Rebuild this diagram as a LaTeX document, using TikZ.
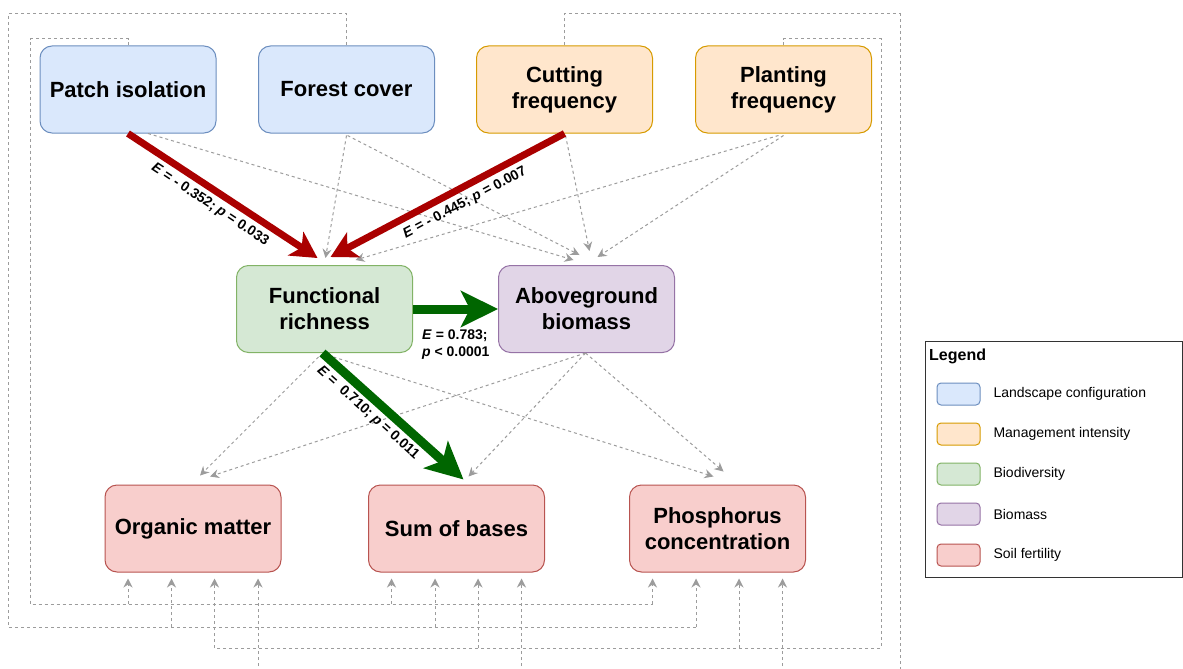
\documentclass[tikz,border=0pt]{standalone}
\usepackage{fontspec}
\setmainfont{Liberation Sans}
\usetikzlibrary{arrows.meta,calc}
\definecolor{blueF}{HTML}{DAE8FC}\definecolor{blueD}{HTML}{6C8EBF}
\definecolor{orangeF}{HTML}{FFE6CC}\definecolor{orangeD}{HTML}{D79B00}
\definecolor{greenF}{HTML}{D5E8D4}\definecolor{greenD}{HTML}{82B366}
\definecolor{purpleF}{HTML}{E1D5E7}\definecolor{purpleD}{HTML}{9673A6}
\definecolor{redF}{HTML}{F8CECC}\definecolor{redD}{HTML}{B85450}
\definecolor{dgray}{HTML}{9C9C9C}
\definecolor{dred}{HTML}{AA0000}
\definecolor{dgreen}{HTML}{006600}
\tikzset{
  box/.style={draw, rounded corners=12pt, minimum width=176pt, minimum height=87pt,
    line width=1pt, align=center, font=\bfseries\fontsize{22}{26}\selectfont},
  land/.style={box, fill=blueF, draw=blueD},
  mgmt/.style={box, fill=orangeF, draw=orangeD},
  biod/.style={box, fill=greenF, draw=greenD},
  bmass/.style={box, fill=purpleF, draw=purpleD},
  soil/.style={box, fill=redF, draw=redD},
  swatch/.style={draw, rounded corners=4pt, minimum width=43pt, minimum height=22pt, line width=1pt},
  legtext/.style={anchor=west, font=\fontsize{14}{17}\selectfont},
  dline/.style={draw=dgray, line width=1pt, dash pattern=on 3pt off 3pt},
  darr/.style={dline, -{Stealth[length=9pt,width=9pt,inset=3pt]}},
  redarr/.style={draw=dred, line width=7pt, -{Stealth[length=26pt,width=28pt,inset=7pt]}},
  grnarr/.style={draw=dgreen, line width=9pt, -{Stealth[length=37pt,width=36pt,inset=9pt]}},
  lbl/.style={font=\bfseries\fontsize{14}{17}\selectfont, inner sep=0pt}
}
\begin{document}
\begin{tikzpicture}[x=1pt,y=-1pt]
\clip (0,0) rectangle (1183,669);
\fill[white] (0,0) rectangle (1183,669);

% nodes
\node[land] (PI) at (128,89.5) {Patch isolation};
\node[land] (FC) at (346.5,89.5) {Forest cover};
\node[mgmt] (CF) at (564.5,89.5) {Cutting\\frequency};
\node[mgmt] (PF) at (783.5,89.5) {Planting\\frequency};
\node[biod] (FR) at (324.5,309) {Functional\\richness};
\node[bmass] (AGB) at (586.5,309) {Aboveground\\biomass};
\node[soil] (OM) at (193,528.5) {Organic matter};
\node[soil] (SB) at (456.5,528.5) {Sum of bases};
\node[soil] (P) at (717.5,528.5) {Phosphorus\\concentration};

% helper coordinates for the routed connectors
\coordinate (ya) at (0,604);
\coordinate (yb) at (0,627);
\coordinate (yc) at (0,648);
\coordinate (yd) at (0,690);
\coordinate (la) at (30,39);
\coordinate (lb) at (8,14);
\coordinate (rc) at (881,39);
\coordinate (rd) at (900,14);
\foreach \n in {OM,SB,P}{
  \coordinate (\n1) at ($(\n.south)+(-65,0)$);
  \coordinate (\n2) at ($(\n.south)+(-21.5,0)$);
  \coordinate (\n3) at ($(\n.south)+(21.5,0)$);
  \coordinate (\n4) at ($(\n.south)+(65,0)$);
}

% routed dashed connectors
\draw[dline] (PI.north) |- (la) -- (la |- ya) -- (P1 |- ya);
\draw[dline] (FC.north) |- (lb) -- (lb |- yb) -- (P2 |- yb);
\draw[dline] (PF.north) |- (rc) -- (rc |- yc) -- (OM3 |- yc);
\draw[dline] (CF.north) |- (rd) -- (rd |- yd) -- (OM4 |- yd);
\foreach \n in {OM,SB,P}{
  \draw[darr, shorten >=6pt] (\n1 |- ya) -- (\n1);
  \draw[darr, shorten >=6pt] (\n2 |- yb) -- (\n2);
  \draw[darr, shorten >=6pt] (\n3 |- yc) -- (\n3);
  \draw[darr, shorten >=6pt] (\n4 |- yd) -- (\n4);
}

% diagonal dashed connectors (upper)
\draw[darr] ($(PI.south)+(20,0)$) -- ($(AGB.north)+(-13,-5)$);
\draw[darr] ($(FC.south)+(0,2)$) -- ($(FR.north)+(1,-7)$);
\draw[darr] ($(FC.south)+(1,2)$) -- ($(AGB.north)+(-7,-10)$);
\draw[darr] ($(CF.south)+(1,2)$) -- ($(AGB.north)+(3,-14)$);
\draw[darr] ($(PF.south)+(0,2)$) -- ($(AGB.north)+(11,-8)$);
\draw[darr] ($(PF.south)+(-5,2)$) -- ($(FR.north)+(31,-5)$);

% diagonal dashed connectors (lower)
\draw[darr] ($(FR.south)+(-6,4)$) -- ($(OM.north)+(7,-9)$);
\draw[darr] ($(FR.south)+(9,4)$) -- ($(P.north)+(-4,-8)$);
\draw[darr] ($(AGB.south)+(-1,0)$) -- ($(OM.north)+(17,-8)$);
\draw[darr] ($(AGB.south)+(-1,0)$) -- ($(SB.north)+(12,-8)$);
\draw[darr] ($(AGB.south)+(-1,0)$) -- ($(P.north)+(6,-13)$);

% significant paths
\draw[redarr] (PI.south) -- ($(FR.north)+(-7,-7)$);
\draw[redarr] (CF.south) -- ($(FR.north)+(6,-8)$);
\draw[grnarr] (FR.east) -- (AGB.west);
\draw[grnarr] ($(FR.south)+(-2,0)$) -- ($(SB.north)+(7,-5)$);

% path labels
\node[lbl, rotate=-33.6] (l1) at (210,205) {\textit{E} = - 0.352; \textit{p} = 0.033};
\node[lbl, rotate=28] (l2) at (465,203) {\textit{E} = - 0.445; \textit{p} = 0.007};
\node[lbl, rotate=-42] (l3) at (368,413) {\textit{E} = \ 0.710; \textit{p} = 0.011};
\node[lbl, anchor=west, align=left] (l4) at (422,345) {\textit{E} = 0.783;\\\textit{p} < 0.0001};

% legend
\node[draw=black!80, line width=1pt, minimum width=257pt, minimum height=236pt, anchor=north west, inner sep=0pt] (legend) at (925,341) {};
\node[anchor=west, font=\bfseries\fontsize{16}{19}\selectfont, inner sep=0pt] (legtitle) at (929,356) {Legend};
\node[swatch, fill=blueF, draw=blueD] (s1) at (958.5,394) {};
\node[swatch, fill=orangeF, draw=orangeD] (s2) at (958.5,434) {};
\node[swatch, fill=greenF, draw=greenD] (s3) at (958.5,474) {};
\node[swatch, fill=purpleF, draw=purpleD] (s4) at (958.5,514) {};
\node[swatch, fill=redF, draw=redD] (s5) at (958.5,555) {};
\node[legtext] (t1) at (990,394) {Landscape configuration};
\node[legtext] (t2) at (990,434) {Management intensity};
\node[legtext] (t3) at (990,474) {Biodiversity};
\node[legtext] (t4) at (990,514) {Biomass};
\node[legtext] (t5) at (990,555) {Soil fertility};
\end{tikzpicture}
\end{document}
